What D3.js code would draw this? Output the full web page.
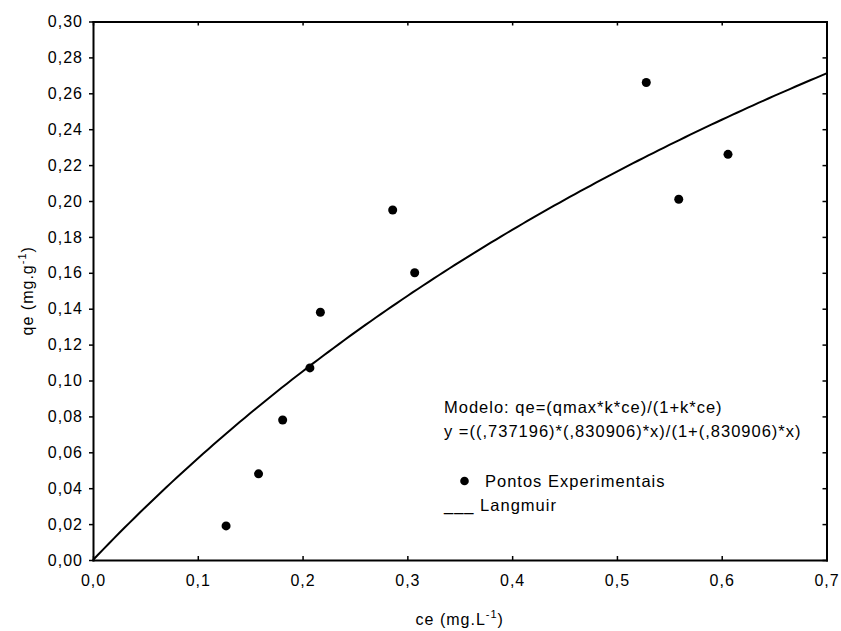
<!DOCTYPE html>
<html>
<head>
<meta charset="utf-8">
<script src="https://cdn.jsdelivr.net/npm/d3@7"></script>
<style>
  html, body { margin: 0; padding: 0; background: #fff; }
  svg { display: block; font-family: "Liberation Sans", Arial, sans-serif; }
  text { letter-spacing: 1px; }
</style>
</head>
<body>
<svg id="chart" width="841" height="631"></svg>
<script>
// Experimental adsorption points: equilibrium concentration (ce) and uptake (qe)
const ceValues = [0.127, 0.158, 0.181, 0.207, 0.217, 0.286, 0.307, 0.528, 0.559, 0.606];
const qeValues = [0.019, 0.048, 0.078, 0.107, 0.138, 0.195, 0.160, 0.266, 0.201, 0.226];

// Fitted Langmuir parameters
const qmax = 0.737196;
const kL = 0.830906;

// Axis ticks
const xTicks = [0, 0.1, 0.2, 0.3, 0.4, 0.5, 0.6, 0.7];
const yTicks = [0, 0.02, 0.04, 0.06, 0.08, 0.10, 0.12, 0.14, 0.16, 0.18, 0.20, 0.22, 0.24, 0.26, 0.28, 0.30];

const annotationLines = [
  "Modelo: qe=(qmax*k*ce)/(1+k*ce)",
  "y =((,737196)*(,830906)*x)/(1+(,830906)*x)"
];

const svg = d3.select("#chart");
const W = 841, H = 631;
const margin = { left: 93, right: W - 826.5, top: 21.5, bottom: H - 560 };

const x = d3.scaleLinear().domain([0, 0.7]).range([margin.left, W - margin.right]);
const y = d3.scaleLinear().domain([0, 0.30]).range([H - margin.bottom, margin.top]);

const ptBR = d3.formatLocale({ decimal: ",", thousands: ".", grouping: [3], currency: ["R$", ""] });
const fx = ptBR.format(".1f");
const fy = ptBR.format(".2f");

const fontSize = 16;

// Axes: bottom ticks point inward, left ticks outward, top/right mirror ticks inward
const gx = svg.append("g")
  .attr("transform", `translate(0,${y(0)})`)
  .call(d3.axisBottom(x).tickValues(xTicks).tickFormat(fx).tickSizeInner(-4).tickSizeOuter(0).tickPadding(15));
const gy = svg.append("g")
  .attr("transform", `translate(${x(0)},0)`)
  .call(d3.axisLeft(y).tickValues(yTicks).tickFormat(fy).tickSizeInner(4).tickSizeOuter(0).tickPadding(6));
const gt = svg.append("g")
  .attr("transform", `translate(0,${y(0.30)})`)
  .call(d3.axisTop(x).tickValues(xTicks).tickFormat("").tickSizeInner(-4).tickSizeOuter(0));
const gr = svg.append("g")
  .attr("transform", `translate(${x(0.7)},0)`)
  .call(d3.axisRight(y).tickValues(yTicks).tickFormat("").tickSizeInner(-4).tickSizeOuter(0));

[gx, gy, gt, gr].forEach(g => {
  g.select(".domain").attr("stroke", "#000").attr("stroke-width", 2).attr("stroke-linecap", "square");
  g.selectAll(".tick line").attr("stroke", "#000").attr("stroke-width", 1.5);
  g.selectAll(".tick text").attr("fill", "#000").attr("font-size", fontSize)
    .attr("font-family", "'Liberation Sans', Arial, sans-serif");
});

// Langmuir curve
const curveX = d3.range(0, 0.7 + 1e-9, 0.005);
const langmuir = d3.line()
  .x(d => x(d))
  .y(d => y(qmax * kL * d / (1 + kL * d)));
svg.append("path")
  .datum(curveX)
  .attr("d", langmuir)
  .attr("fill", "none")
  .attr("stroke", "#000")
  .attr("stroke-width", 2);

// Experimental points
svg.append("g").selectAll("circle")
  .data(ceValues.map((c, i) => [c, qeValues[i]]))
  .join("circle")
  .attr("cx", d => x(d[0]))
  .attr("cy", d => y(d[1]))
  .attr("r", 4.5)
  .attr("fill", "#000");

// Axis titles
const xt = svg.append("text")
  .attr("x", (x(0) + x(0.7)) / 2)
  .attr("y", 625)
  .attr("text-anchor", "middle")
  .attr("font-size", fontSize);
xt.append("tspan").text("ce (mg.L");
xt.append("tspan").attr("font-size", 11).attr("dy", -7).text("-1");
xt.append("tspan").attr("dy", 7).text(")");

const yt = svg.append("text")
  .attr("transform", `translate(33,${(y(0) + y(0.30)) / 2}) rotate(-90)`)
  .attr("text-anchor", "middle")
  .attr("font-size", fontSize);
yt.append("tspan").text("qe (mg.g");
yt.append("tspan").attr("font-size", 11).attr("dy", -7).text("-1");
yt.append("tspan").attr("dy", 7).text(")");

// Model annotation
svg.append("g").selectAll("text")
  .data(annotationLines)
  .join("text")
  .attr("x", 444)
  .attr("y", (d, i) => 413 + i * 23.5)
  .attr("font-size", 16.5)
  .text(d => d);

// Legend
svg.append("circle").attr("cx", 464.5).attr("cy", 481).attr("r", 4.3).attr("fill", "#000");
svg.append("text").attr("x", 485).attr("y", 487).attr("font-size", 16.5).text("Pontos Experimentais");
svg.append("text").attr("x", 444).attr("y", 511).attr("font-size", 16.5).text("___ Langmuir");
</script>
</body>
</html>
